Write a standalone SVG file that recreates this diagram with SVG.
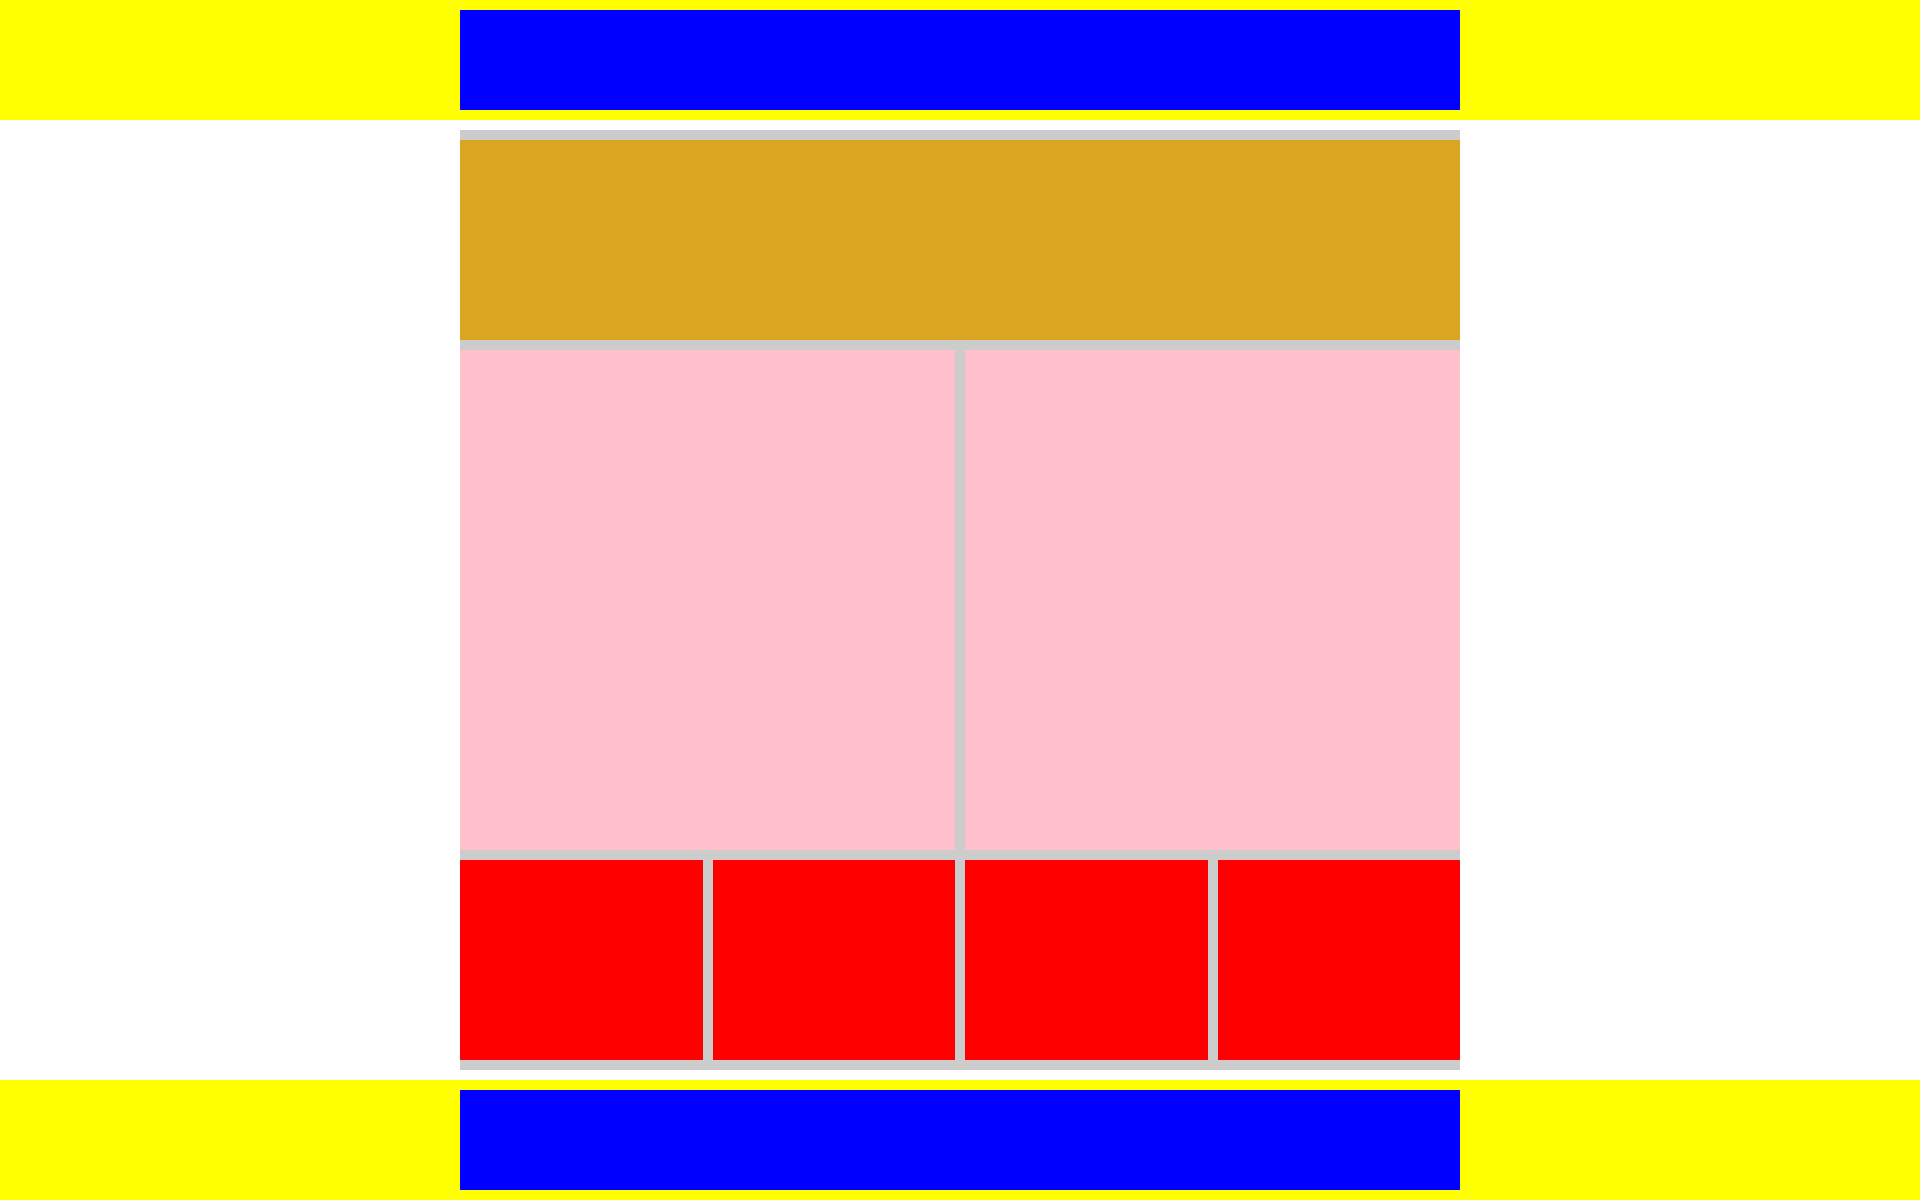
<svg xmlns="http://www.w3.org/2000/svg" width="1920" height="1200" viewBox="0 0 1920 1200">
<style>
.band{fill:#ffff00}
.blue{fill:#0000ff}
.gray{fill:#cccccc}
.gold{fill:#daa520}
.pink{fill:#ffc0cb}
.red{fill:#ff0000}
</style>
<rect width="1920" height="1200" fill="#ffffff"/>
<g id="header">
<rect class="band" x="0" y="0" width="1920" height="120"/>
<rect class="blue" x="460" y="10" width="1000" height="100"/>
</g>
<g id="container">
<rect class="gray" x="460" y="130" width="1000" height="940"/>
</g>
<g id="banner">
<rect class="gold" x="460" y="140" width="1000" height="200"/>
</g>
<g id="panel-left">
<rect class="pink" x="460" y="350" width="495" height="500"/>
</g>
<g id="panel-right">
<rect class="pink" x="965" y="350" width="495" height="500"/>
</g>
<g id="tile-1"><rect class="red" x="460" y="860" width="243" height="200"/></g>
<g id="tile-2"><rect class="red" x="713" y="860" width="242" height="200"/></g>
<g id="tile-3"><rect class="red" x="965" y="860" width="243" height="200"/></g>
<g id="tile-4"><rect class="red" x="1218" y="860" width="242" height="200"/></g>
<g id="footer">
<rect class="band" x="0" y="1080" width="1920" height="120"/>
<rect class="blue" x="460" y="1090" width="1000" height="100"/>
</g>
<g id="connectors"></g>
</svg>
